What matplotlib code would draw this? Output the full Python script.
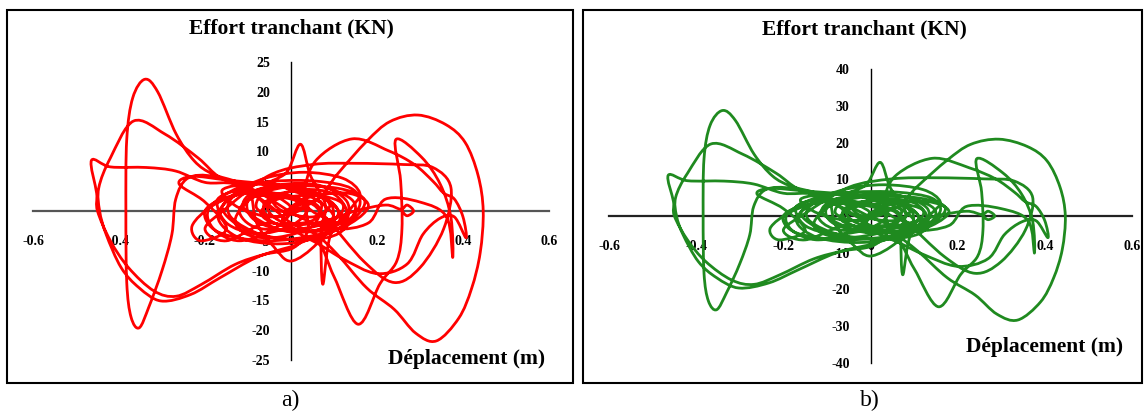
import matplotlib
matplotlib.use("Agg")
import matplotlib.pyplot as plt
from matplotlib.path import Path
from matplotlib.patches import PathPatch, Rectangle

# displacement (m) (same abscissa)
deplacement = [
    0.000, 0.030, 0.065, 0.050, -0.015, -0.055, -0.030, 0.045, 0.095, 0.085,
    0.000, -0.085, -0.100, -0.045, 0.060, 0.130, 0.120, 0.040, -0.060, -0.140,
    -0.135, -0.060, 0.020, 0.080, 0.110, 0.060, -0.030, -0.110, -0.080, 0.010,
    0.100, 0.150, 0.110, 0.010, -0.100, -0.160, -0.110,
    # dense core
    -0.170, -0.150, -0.080, 0.000, 0.040, 0.000, -0.060, -0.050, 0.020, 0.090,
    0.130, 0.100, 0.030, -0.040, -0.020, 0.050, 0.090, 0.060, -0.010, -0.090,
    -0.130, -0.100, -0.030, 0.050, 0.070, 0.020, -0.030, -0.080, -0.060, 0.010,
    0.060, 0.120, 0.160, 0.140, 0.060, -0.040, -0.120, -0.190, -0.180, -0.120,
    -0.040, 0.000, -0.060,
    # growing cycles
    -0.010, 0.022, 0.045,
    0.080, 0.070, 0.074, 0.092, 0.140, 0.160, 0.120, 0.030, -0.060, -0.130,
    -0.170, -0.120, -0.020, 0.080, 0.150, 0.170, 0.110, 0.000, -0.100, -0.180,
    -0.230, -0.210, -0.150, -0.200, -0.260, -0.230, -0.150, -0.060, 0.030, 0.100,
    0.060, 0.000, -0.040, -0.080, -0.100, -0.165, -0.216, -0.293, -0.366, -0.420,
    -0.447, -0.445, -0.430, -0.395, -0.353, -0.302, -0.233, -0.165, -0.080, 0.000,
    0.060, 0.100, 0.156, 0.207, 0.246, 0.258, 0.255, 0.244, 0.304, 0.347,
    0.372, 0.376, 0.362, 0.300, 0.220, 0.180, 0.100, 0.020, -0.060, -0.122,
    -0.182, -0.225, -0.267, -0.310, -0.340, -0.368, -0.382, -0.384, -0.382, -0.372,
    -0.353, -0.330, -0.300, -0.277, -0.268, -0.240, -0.180, -0.100, -0.030, 0.057,
    0.108, 0.176, 0.230, 0.295, 0.360, 0.405, 0.435, 0.447, 0.440, 0.420,
    0.390, 0.338, 0.290, 0.240, 0.176, 0.108, 0.057, 0.000, -0.060, -0.130,
    -0.200, -0.268, -0.336, -0.420, -0.464, -0.452, -0.450, -0.420, -0.378, -0.319,
    -0.267, -0.208, -0.131, -0.063, 0.005, 0.040, 0.030, 0.057, 0.142, 0.227,
    0.287, 0.330, 0.355, 0.380, 0.400, 0.407, 0.380, 0.347, 0.307, 0.270,
    0.200, 0.120, 0.050, -0.050, -0.150, -0.200, -0.150, -0.050, 0.050, 0.150,
    0.261, 0.330, 0.372, 0.355, 0.300, 0.240, 0.170, 0.080,
    # decay
    0.040, -0.040, -0.140, -0.200, -0.170, -0.060, 0.060, 0.140, 0.180, 0.130,
    0.030, -0.020, 0.040, 0.110, 0.100, 0.030, -0.080, -0.160, -0.120, -0.040,
    0.030,
    0.000, -0.080,
    -0.120, -0.080, 0.020, 0.100, 0.120, 0.060, -0.030, -0.070, -0.030, 0.060,
    0.150, 0.220, 0.255, 0.270, 0.285, 0.270, 0.258,
]

# shear force (KN), panel a)
effort_a = [
    0.0, 1.8, 0.6, -1.6, -2.0, 0.4, 2.8, 3.3, 1.0, -2.6,
    -3.5, -1.5, 1.8, 4.0, 4.4, 1.6, -2.4, -4.6, -4.2, -1.0,
    2.4, 4.8, 3.0, 2.2, -0.5, -3.2, -3.0, 0.5, 3.5, 4.6,
    3.5, 0.8, -3.8, -4.8, -3.3, 0.5, 3.6,
    2.0, -2.0, -3.8, -2.5, 0.5, 2.5, 1.5, -1.5, -3.2, -3.0,
    -0.5, 2.8, 3.6, 2.2, 0.0, -1.0, 0.8, 3.0, 4.0, 2.2,
    -1.5, -4.0, -4.4, -2.5, 1.5, 1.0, -1.0, 0.5, 3.0, 2.0,
    -0.5, -2.0, 1.0, 3.8, 5.0, 5.0, 4.0, 0.5, -3.0, -5.0,
    -3.0, 0.5, 4.0,
    6.5, 11.2, 6.0,
    1.0, -3.5, -12.3, -4.0, 0.5, 3.0, 5.5, 6.5, 5.5, 3.0,
    -1.0, -4.5, -5.5, -4.0, -1.0, 2.0, 3.8, 4.2, 3.2, 1.0,
    -2.5, -5.0, -3.0, 1.5, 4.5, 5.8, 5.2, 4.5, 3.0, -1.0,
    -5.5, -8.4, -6.0, -2.0, 3.9, 5.6, 8.9, 12.9, 15.1, 8.9,
    3.9, 0.0, -3.9, -9.5, -12.9, -15.1, -14.0, -11.2, -7.8, -6.0,
    -5.0, -11.0, -19.0, -12.2, -8.4, -3.0, 5.0, 12.0, 9.0, 4.5,
    -1.1, -7.8, -1.0, 1.5, 2.0, -2.0, -3.0, -1.0, 2.5, 4.8,
    6.2, 8.4, 12.9, 20.0, 22.1, 19.0, 12.0, 0.0, -12.0, -17.8,
    -19.6, -16.0, -10.0, -3.9, 2.0, 5.5, 5.8, 3.5, 0.0, 1.7,
    6.2, 11.7, 15.0, 16.1, 14.5, 11.5, 6.0, 0.0, -7.0, -13.0,
    -18.0, -21.8, -20.5, -16.5, -12.9, -7.3, -3.9, -2.0, 1.5, 4.5,
    4.8, 6.7, 7.3, 7.4, 8.5, 3.0, 0.0, -5.0, -9.5, -13.4,
    -14.3, -12.3, -9.0, -7.3, -6.2, -3.0, 2.5, 8.4, 12.1, 10.1,
    7.8, 5.0, 3.0, 2.0, -1.0, -4.5, -1.0, -1.2, -3.9, -8.9,
    -10.5, -8.0, -5.0, -2.0, -5.0, -3.0, 0.5, 6.0, 7.8, 8.0,
    7.8, 7.3, 3.9, -3.0, -9.5, -12.0, -8.5, -1.0,
    1.5, 3.0, 2.5, 0.0, -3.5, -5.0, -4.0, -2.0, 1.0, 3.0,
    2.0, -1.5, -3.5, -2.0, 1.0, 3.2, 4.5, 3.5, 0.5, -1.0,
    0.5,
    2.0, 2.5,
    0.0, -2.8, -3.0, -1.5, 1.2, 2.6, 2.0, -0.3, -2.2, -2.0,
    0.0, 1.0, 0.3, 1.0, 0.0, -0.8, 0.0,
]

# shear force (KN), panel b)
effort_b = [
    0.0, 2.3, 0.8, -2.1, -2.6, 0.5, 3.6, 4.3, 1.3, -3.4,
    -4.6, -2.0, 2.3, 5.2, 5.7, 2.1, -3.1, -6.0, -5.5, -1.3,
    3.1, 6.2, 3.9, 2.9, -0.7, -4.2, -3.9, 0.7, 4.6, 6.0,
    4.6, 1.0, -4.9, -6.2, -4.3, 0.7, 4.7,
    2.6, -2.6, -4.9, -3.3, 0.7, 3.3, 2.0, -2.0, -4.2, -3.9,
    -0.7, 3.6, 4.7, 2.9, 0.0, -1.3, 1.0, 3.9, 5.2, 2.9,
    -2.0, -5.2, -5.7, -3.3, 2.0, 1.3, -1.3, 0.7, 3.9, 2.6,
    -0.7, -2.6, 1.3, 4.9, 6.5, 6.5, 5.2, 0.7, -3.9, -6.5,
    -3.9, 0.7, 5.2,
    8.5, 14.6, 7.8,
    1.3, -4.6, -16.0, -5.2, 0.7, 3.9, 7.2, 8.5, 7.2, 3.9,
    -1.3, -5.9, -7.2, -5.2, -1.3, 2.6, 4.9, 5.5, 4.2, 1.3,
    -3.3, -6.5, -3.9, 2.0, 5.9, 7.5, 6.8, 5.9, 3.9, -1.3,
    -7.2, -10.9, -7.8, -2.6, 5.1, 7.3, 11.6, 16.8, 19.6, 11.6,
    5.1, 0.0, -5.1, -12.4, -16.8, -19.6, -18.2, -14.6, -10.1, -7.8,
    -6.5, -14.3, -24.7, -15.9, -10.9, -3.9, 6.5, 15.6, 11.7, 5.9,
    -1.4, -10.1, -1.3, 2.0, 2.6, -2.6, -3.9, -1.3, 3.3, 6.2,
    8.1, 10.9, 16.8, 26.0, 28.7, 24.7, 15.6, 0.0, -15.6, -23.1,
    -25.5, -20.8, -13.0, -5.1, 2.6, 7.2, 7.5, 4.6, 0.0, 2.2,
    8.1, 15.2, 19.5, 20.9, 18.9, 15.0, 7.8, 0.0, -9.1, -16.9,
    -23.4, -28.3, -26.7, -21.5, -16.8, -9.5, -5.1, -2.6, 2.0, 5.9,
    6.2, 8.7, 9.5, 9.6, 11.1, 3.9, 0.0, -6.5, -12.4, -17.4,
    -18.6, -16.0, -11.7, -9.5, -8.1, -3.9, 3.3, 10.9, 15.7, 13.1,
    10.1, 6.5, 3.9, 2.6, -1.3, -5.9, -1.3, -1.6, -5.1, -11.6,
    -13.7, -10.4, -6.5, -2.6, -6.5, -3.9, 0.7, 7.8, 10.1, 10.4,
    10.1, 9.5, 5.1, -3.9, -12.4, -15.6, -11.1, -1.3,
    2.0, 3.9, 3.3, 0.0, -4.6, -6.5, -5.2, -2.6, 1.3, 3.9,
    2.6, -2.0, -4.6, -2.6, 1.3, 4.2, 5.9, 4.6, 0.7, -1.3,
    0.7,
    2.6, 3.3,
    0.0, -3.6, -3.9, -2.0, 1.6, 3.4, 2.6, -0.4, -2.9, -2.6,
    0.0, 1.3, 0.4, 1.3, 0.0, -1.0, 0.0,
]

x_ticks = [-0.6, -0.4, -0.2, 0.0, 0.2, 0.4, 0.6]
x_tick_labels = ["-0.6", "-0.4", "-0.2", "0", "0.2", "0.4", "0.6"]
y_ticks_a = [-25, -20, -15, -10, -5, 0, 5, 10, 15, 20, 25]
y_ticks_b = [-40, -30, -20, -10, 0, 10, 20, 30, 40]

SERIF = "Liberation Serif"


def smooth_path(xs: list[float], ys: list[float]) -> Path:
    # Excel-like smoothed scatter line (Catmull-Rom drawn as Bezier)
    pts = list(zip(xs, ys))
    n = len(pts)
    verts = [pts[0]]
    codes = [Path.MOVETO]
    for i in range(n - 1):
        p0 = pts[i - 1] if i > 0 else pts[i]
        p1 = pts[i]
        p2 = pts[i + 1]
        p3 = pts[i + 2] if i + 2 < n else pts[i + 1]
        c1 = (p1[0] + (p2[0] - p0[0]) / 6, p1[1] + (p2[1] - p0[1]) / 6)
        c2 = (p2[0] - (p3[0] - p1[0]) / 6, p2[1] - (p3[1] - p1[1]) / 6)
        verts += [c1, c2, p2]
        codes += [Path.CURVE4] * 3
    return Path(verts, codes)


def draw_panel(fig, rect, ys, yticks, color, hcolor):
    ax = fig.add_axes(rect)
    ax.set_facecolor("none")
    ax.add_patch(PathPatch(smooth_path(deplacement, ys), fill=False,
                           edgecolor=color, lw=2.0, zorder=3,
                           capstyle="round", joinstyle="round"))
    ax.set_xlim(-0.6, 0.6)
    ax.set_ylim(yticks[0], yticks[-1])
    for side in ("top", "right"):
        ax.spines[side].set_visible(False)
    ax.spines["left"].set_position(("data", 0))
    ax.spines["bottom"].set_position(("data", 0))
    ax.spines["left"].set_linewidth(1.0)
    ax.spines["left"].set_color("black")
    ax.spines["bottom"].set_linewidth(1.6)
    ax.spines["bottom"].set_color(hcolor)
    ax.set_xticks(x_ticks)
    ax.set_xticklabels(x_tick_labels)
    ax.set_yticks(yticks)
    ax.set_yticklabels([str(v) for v in yticks])
    ax.tick_params(axis="x", length=0, pad=17)
    ax.tick_params(axis="y", length=0, pad=15)
    for lab in ax.get_xticklabels() + ax.get_yticklabels():
        lab.set_fontfamily(SERIF)
        lab.set_fontweight("bold")
        lab.set_fontsize(10)
    return ax


fig = plt.figure(figsize=(11.44, 4.16), dpi=100)

# panel frames
fig.patches.append(Rectangle((7 / 1144, 1 - 383 / 416), 566 / 1144, 373 / 416,
                             transform=fig.transFigure, fill=False,
                             edgecolor="black", lw=1.5))
fig.patches.append(Rectangle((583 / 1144, 1 - 383 / 416), 559 / 1144, 373 / 416,
                             transform=fig.transFigure, fill=False,
                             edgecolor="black", lw=1.5))

draw_panel(fig, [33 / 1144, 56 / 416, 516 / 1144, 298 / 416],
           effort_a, y_ticks_a, "#ff0000", "#555555")
draw_panel(fig, [609 / 1144, 53 / 416, 523 / 1144, 294 / 416],
           effort_b, y_ticks_b, "#1f8a1f", "#222222")

title_font = dict(family=SERIF, fontweight="bold", fontsize=15.5)
fig.text(291 / 1144, 1 - 28 / 416, "Effort tranchant (KN)",
         ha="center", va="center", **title_font)
fig.text(864 / 1144, 1 - 29 / 416, "Effort tranchant (KN)",
         ha="center", va="center", **title_font)
fig.text(545 / 1144, 1 - 359 / 416, "Déplacement (m)",
         ha="right", va="center", **title_font)
fig.text(1123 / 1144, 1 - 347 / 416, "Déplacement (m)",
         ha="right", va="center", **title_font)

fig.text(290 / 1144, 1 - 400 / 416, "a)", ha="center", va="center",
         family=SERIF, fontsize=17)
fig.text(870 / 1144, 1 - 400 / 416, "b)", ha="center", va="center",
         family=SERIF, fontsize=17)

fig.savefig("out.png", dpi=100)
